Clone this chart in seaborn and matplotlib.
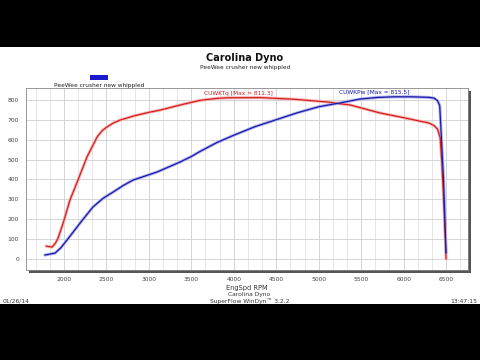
import numpy as np
import pandas as pd
import seaborn as sns
import matplotlib.pyplot as plt
from matplotlib.patches import Rectangle
from matplotlib.ticker import MultipleLocator

# torque curve (red)
tq_rpm = [1790, 1860, 1900, 1930, 1990, 2070, 2165, 2270, 2390, 2450, 2505,
          2580, 2660, 2815, 3000, 3130, 3370, 3600, 3800, 3920, 4310, 4700,
          5100, 5250, 5370, 5720, 6000, 6300, 6360, 6400, 6430, 6450, 6470,
          6500]
tq_val = [65, 60, 80, 105, 180, 296, 397, 512, 613, 645, 663,
          683, 698, 718, 737, 748, 774, 797, 807, 810, 811, 803,
          789, 780, 774, 734, 710, 683, 670, 652, 610, 482, 312,
          0]

# power curve (blue)
pw_rpm = [1775, 1895, 1960, 2035, 2190, 2340, 2460, 2580, 2700, 2815, 3095,
          3365, 3500, 3600, 3800, 4000, 4250, 4500, 4750, 5000, 5250, 5490,
          5700, 5890, 6100, 6300, 6360, 6400, 6425, 6440, 6470, 6500]
pw_val = [20, 30, 55, 95, 181, 261, 305, 337, 370, 397, 437,
          487, 515, 540, 585, 622, 665, 700, 735, 765, 784, 804,
          812, 815, 815, 812, 808, 795, 770, 648, 397, 30]

x_ticks = [2000, 2500, 3000, 3500, 4000, 4500, 5000, 5500, 6000, 6500]
y_ticks = [0, 100, 200, 300, 400, 500, 600, 700, 800]

sns.set_style("white")
plt.rcParams['font.family'] = ['DejaVu Sans']

fig = plt.figure(figsize=(4.8, 3.6), dpi=100, facecolor='black')
# white page between the black bars
fig.patches.append(Rectangle((0, 0.156), 1, 0.713, transform=fig.transFigure,
                             facecolor='white', edgecolor='none', zorder=0.1))
# drop shadow on right and bottom of the plot box
fig.patches.append(Rectangle((0.060, 0.241), 0.921, 0.506,
                             transform=fig.transFigure, facecolor='#555555',
                             edgecolor='none', zorder=0.2))

ax = fig.add_axes([0.054, 0.25, 0.921, 0.506])
ax.set_zorder(1)

tq = pd.DataFrame({"rpm": tq_rpm, "val": tq_val})
pw = pd.DataFrame({"rpm": pw_rpm, "val": pw_val})

# soft halo under each curve
sns.lineplot(data=tq, x="rpm", y="val", ax=ax, color='#f7b4b4', lw=2.2,
             sort=False)
sns.lineplot(data=pw, x="rpm", y="val", ax=ax, color='#b0b0ee', lw=2.2,
             sort=False)
sns.lineplot(data=tq, x="rpm", y="val", ax=ax, color='#d42020', lw=0.9,
             sort=False)
sns.lineplot(data=pw, x="rpm", y="val", ax=ax, color='#1a1aa8', lw=0.9,
             sort=False)

ax.set_xlim(1552, 6758)
ax.set_ylim(-55, 860)
ax.set_xticks(x_ticks)
ax.set_yticks(y_ticks)
ax.xaxis.set_minor_locator(MultipleLocator(500 / 3))
ax.grid(True, which='major', color='#cfcfcf', lw=0.6)
ax.grid(True, which='minor', axis='x', color='#dcdcdc', lw=0.5)
ax.tick_params(labelsize=4.3, colors='#444444', length=0, pad=5)
ax.set_xlabel("EngSpd RPM", fontsize=4.8, color='#333333', labelpad=2)
ax.set_ylabel("")
for s in ax.spines.values():
    s.set_color('#888888')
    s.set_linewidth(0.6)

ax.text(4050, 818, "CUWKTq [Max = 811.3]", color='#d42020', fontsize=4.2,
        ha='center', va='bottom')
ax.text(5650, 825, "CUWKPw [Max = 815.5]", color='#1a1aa8', fontsize=4.2,
        ha='center', va='bottom')

fig.text(0.51, 0.838, "Carolina Dyno", fontsize=7, fontweight='bold',
         ha='center', va='center', color='#111111')
fig.text(0.51, 0.812, "PeeWee crusher new whippled", fontsize=4.2,
         ha='center', va='center', color='#222222')

# legend swatch
fig.patches.append(Rectangle((0.188, 0.779), 0.038, 0.012,
                             transform=fig.transFigure, facecolor='#1a1acc',
                             edgecolor='none', zorder=0.3))
fig.text(0.207, 0.762, "PeeWee crusher new whippled", fontsize=4.2,
         ha='center', va='center', color='#222222')

fig.text(0.52, 0.182, "Carolina Dyno", fontsize=4.3, ha='center',
         va='center', color='#333333')
fig.text(0.52, 0.163, "SuperFlow WinDyn\u2122 3.2.2", fontsize=4.3,
         ha='center', va='center', color='#333333')
fig.text(0.006, 0.163, "01/26/14", fontsize=4.3, ha='left', va='center',
         color='#333333')
fig.text(0.994, 0.163, "13:47:15", fontsize=4.3, ha='right', va='center',
         color='#333333')

fig.savefig("out.png", dpi=100, facecolor='black')
